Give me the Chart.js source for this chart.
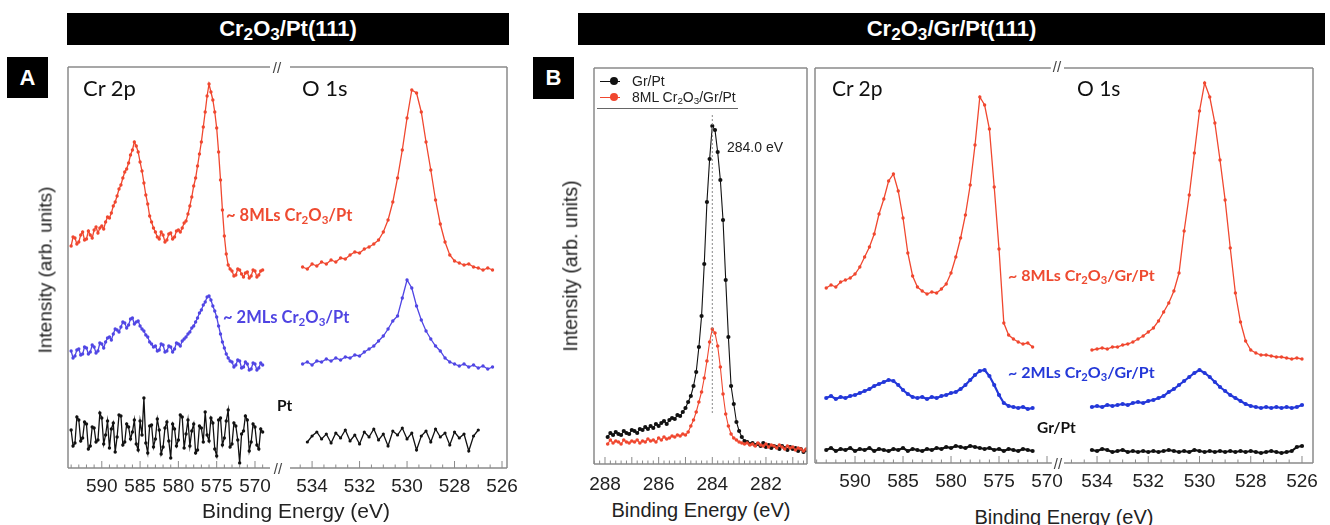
<!DOCTYPE html>
<html>
<head>
<meta charset="utf-8">
<script src="https://cdn.jsdelivr.net/npm/chart.js@4.4.1/dist/chart.umd.min.js"></script>
<style>
  body { margin: 0; width: 1330px; height: 525px; position: relative; overflow: hidden; background: #fff;
         font-family: "Liberation Sans", Arial, sans-serif; color: #222; }
  canvas { position: absolute; }
  .t { position: absolute; white-space: nowrap; line-height: 1; transform: translateY(-50%); }
  .t.c { transform: translate(-50%, -50%); }
  .yt { position: absolute; white-space: nowrap; line-height: 1; transform: translate(-50%, -50%) rotate(-90deg); }
  .bar { position: absolute; background: #000; color: #fff; font-weight: bold; text-align: center; }
  .bar sub { font-size: 78%; }
  .tag { position: absolute; background: #000; color: #fff; font-weight: bold; font-size: 22px; text-align: center; }
  .cal { font-family: Lato, "Open Sans", sans-serif; color: #111; }
  .lab { font-family: Lato, sans-serif; font-weight: bold; }
  .brk { position: absolute; font-size: 15px; color: #444; line-height: 1; transform: translate(-50%, -50%); background: #fff; padding: 0 2px; }
  sub { font-size: 70%; line-height: 0; vertical-align: -0.25em; }
  .leg { position: absolute; height: 0; }
</style>
</head>
<body>

<div class="bar" style="left:67px;top:13px;width:442px;height:32px;line-height:32px;font-size:22px">Cr<sub>2</sub>O<sub>3</sub>/Pt(111)</div>
<div class="bar" style="left:578px;top:13px;width:747px;height:32px;line-height:32px;font-size:22px">Cr<sub>2</sub>O<sub>3</sub>/Gr/Pt(111)</div>
<div class="tag" style="left:7px;top:57px;width:41px;height:41px;line-height:41px">A</div>
<div class="tag" style="left:533px;top:57px;width:41px;height:42px;line-height:42px">B</div>

<canvas id="aCr"></canvas>
<canvas id="aO"></canvas>
<canvas id="bC"></canvas>
<canvas id="bCr"></canvas>
<canvas id="bO"></canvas>

<!-- panel A text -->
<div class="t cal" style="left:83px;top:88px;font-size:22px">Cr 2p</div>
<div class="t cal" style="left:302px;top:88px;font-size:22px">O 1s</div>
<div class="t lab" style="left:226px;top:215px;font-size:16.5px;color:#EE4A30">~ 8MLs Cr<sub>2</sub>O<sub>3</sub>/Pt</div>
<div class="t lab" style="left:223px;top:317px;font-size:16.5px;color:#4F44E2">~ 2MLs Cr<sub>2</sub>O<sub>3</sub>/Pt</div>
<div class="t lab" style="left:277px;top:406px;font-size:15.5px;color:#111">Pt</div>
<div class="yt" style="left:45px;top:270px;font-size:19px">Intensity (arb. units)</div>
<div class="t c" style="left:296px;top:510px;font-size:21px">Binding Energy (eV)</div>
<div class="brk" style="left:277px;top:67px">//</div>
<div class="brk" style="left:278px;top:468px">//</div>

<!-- panel B text -->
<div class="leg" style="left:600px;top:81px;width:20px;border-top:1.5px solid #111"></div>
<div class="leg" style="left:610px;top:77px;width:8px;height:8px;border-radius:50%;background:#111"></div>
<div class="t" style="left:632px;top:81px;font-size:14px">Gr/Pt</div>
<div class="leg" style="left:600px;top:97px;width:20px;border-top:1.5px solid #F0472F"></div>
<div class="leg" style="left:610px;top:93px;width:8px;height:8px;border-radius:50%;background:#F0472F"></div>
<div class="t" style="left:632px;top:97px;font-size:14px">8ML Cr<sub>2</sub>O<sub>3</sub>/Gr/Pt</div>
<div class="leg" style="left:597px;top:108px;width:141px;border-top:1.5px solid #666"></div>
<div class="t" style="left:727px;top:147px;font-size:14px">284.0 eV</div>

<div class="t cal" style="left:832px;top:87px;font-size:21px">Cr 2p</div>
<div class="t cal" style="left:1077px;top:87px;font-size:21px">O 1s</div>
<div class="t lab" style="left:1008px;top:275px;font-size:16px;color:#EE4A30">~ 8MLs Cr<sub>2</sub>O<sub>3</sub>/Gr/Pt</div>
<div class="t lab" style="left:1008px;top:372px;font-size:16px;color:#2438D8">~ 2MLs Cr<sub>2</sub>O<sub>3</sub>/Gr/Pt</div>
<div class="t lab" style="left:1037px;top:428px;font-size:15.5px;color:#111">Gr/Pt</div>
<div class="yt" style="left:571px;top:266px;font-size:19.5px">Intensity (arb. units)</div>
<div class="t c" style="left:701px;top:510px;font-size:20px">Binding Energy (eV)</div>
<div class="t c" style="left:1064px;top:517px;font-size:20px">Binding Energy (eV)</div>
<div class="brk" style="left:1057px;top:66px">//</div>
<div class="brk" style="left:1058px;top:463px">//</div>

<script>
// ---------- panel A: Cr2O3/Pt(111) ----------
const crEvA = [594, 593.75, 593.5, 593.25, 593, 592.75, 592.5, 592.25, 592, 591.75,
  591.5, 591.25, 591, 590.75, 590.5, 590.25, 590, 589.75, 589.5, 589.25,
  589, 588.75, 588.5, 588.25, 588, 587.75, 587.5, 587.25, 587, 586.75,
  586.5, 586.25, 586, 585.75, 585.5, 585.25, 585, 584.75, 584.5, 584.25,
  584, 583.75, 583.5, 583.25, 583, 582.75, 582.5, 582.25, 582, 581.75,
  581.5, 581.25, 581, 580.75, 580.5, 580.25, 580, 579.75, 579.5, 579.25,
  579, 578.75, 578.5, 578.25, 578, 577.75, 577.5, 577.25, 577, 576.75,
  576.5, 576.25, 576, 575.75, 575.5, 575.25, 575, 574.75, 574.5, 574.25,
  574, 573.75, 573.5, 573.25, 573, 572.75, 572.5, 572.25, 572, 571.75,
  571.5, 571.25, 571, 570.75, 570.5, 570.25, 570, 569.75, 569.5, 569.25,
  569];
const crA8 = [222, 231, 230, 224, 226, 233, 236, 228, 229, 237,
  233, 230, 238, 241, 235, 240, 242, 239, 246, 251,
  250, 255, 262, 266, 272, 279, 283, 290, 296, 299,
  305, 313, 318, 326, 322, 316, 306, 297, 285, 273,
  264, 252, 246, 240, 236, 231, 229, 236, 233, 226,
  228, 234, 235, 229, 231, 237, 238, 236, 240, 245,
  247, 254, 262, 271, 282, 290, 302, 314, 326, 341,
  356, 372, 384, 376, 368, 356, 340, 316, 288, 258,
  232, 214, 203, 199, 197, 192, 193, 199, 198, 194,
  191, 195, 196, 190, 192, 198, 197, 191, 193, 197,
  198];
const crA2 = [117, 110, 112, 118, 119, 113, 114, 121, 120, 114,
  116, 123, 121, 115, 117, 125, 124, 120, 126, 130,
  131, 128, 134, 139, 138, 136, 141, 146, 145, 140,
  143, 149, 150, 144, 146, 147, 142, 139, 137, 133,
  131, 126, 124, 121, 122, 117, 118, 124, 123, 116,
  117, 122, 121, 116, 119, 125, 124, 122, 127, 129,
  131, 134, 136, 140, 142, 146, 150, 155, 158, 163,
  166, 171, 172, 168, 162, 157, 151, 142, 134, 126,
  120, 114, 110, 107, 106, 101, 103, 108, 107, 100,
  101, 106, 104, 98, 99, 105, 104, 98, 100, 105,
  103];
const crAPt = [38, 22, 25, 51, 48, 27, 30, 46, 44, 19,
  22, 41, 40, 26, 28, 55, 50, 24, 33, 47,
  20, 39, 45, 16, 31, 53, 52, 23, 26, 44,
  41, 29, 36, 48, 24, 18, 47, 33, 70, 25,
  15, 42, 43, 21, 29, 49, 38, 14, 21, 40,
  46, 27, 10, 44, 39, 22, 28, 53, 51, 20,
  34, 48, 22, 37, 44, 15, 18, 42, 40, 26,
  56, 33, 27, 50, 45, 19, 12, 48, 50, 23,
  30, 47, 58, 21, 24, 45, 42, 28, 5, 34,
  37, 52, 48, 17, 26, 44, 41, 23, 19, 39,
  36];

const oEvA = [534.4, 534.2, 534, 533.8, 533.6, 533.4, 533.2, 533, 532.8, 532.6, 532.4, 532.2, 532, 531.8, 531.6, 531.4,
  531.2, 531, 530.8, 530.6, 530.4, 530.2, 530, 529.8, 529.6, 529.4, 529.2, 529, 528.8, 528.6, 528.4, 528.2,
  528, 527.8, 527.6, 527.4, 527.2, 527, 526.8, 526.6, 526.4];
const oA8 = [201, 199, 204, 202, 206, 204, 208, 206, 210, 209, 213, 216, 215, 219, 221, 224,
  228, 236, 248, 266, 290, 318, 350, 378, 375, 356, 326, 298, 268, 244, 226, 213,
  207, 205, 203, 204, 201, 200, 198, 200, 198];
const oA2 = [104, 106, 103, 107, 106, 109, 107, 110, 108, 111, 110, 113, 112, 116, 119, 122,
  127, 132, 139, 147, 152, 170, 188, 180, 162, 148, 137, 129, 122, 117, 110, 106,
  104, 102, 104, 101, 103, 100, 102, 99, 101];
const oEvAPt = [534.2, 534, 533.8, 533.6, 533.4, 533.2, 533, 532.8, 532.6, 532.4, 532.2, 532, 531.8, 531.6, 531.4, 531.2,
  531, 530.8, 530.6, 530.4, 530.2, 530, 529.8, 529.6, 529.4, 529.2, 529, 528.8, 528.6, 528.4, 528.2, 528,
  527.8, 527.6, 527.4, 527.2, 527];
const oAPt = [26, 32, 36, 29, 34, 25, 35, 30, 38, 27, 33, 24, 36, 31, 39, 28,
  34, 22, 37, 33, 40, 29, 35, 18, 32, 37, 26, 39, 31, 35, 23, 36,
  30, 34, 17, 32, 38];

// ---------- panel B: C 1s ----------
const cEv = [287.9, 287.8, 287.7, 287.6, 287.5, 287.4, 287.3, 287.2, 287.1, 287.0,
  286.9, 286.8, 286.7, 286.6, 286.5, 286.4, 286.3, 286.2, 286.1, 286.0,
  285.9, 285.8, 285.7, 285.6, 285.5, 285.4, 285.3, 285.2, 285.1, 285.0,
  284.9, 284.8, 284.7, 284.6, 284.5, 284.4, 284.3, 284.2, 284.1, 284.0,
  283.9, 283.8, 283.7, 283.6, 283.5, 283.4, 283.3, 283.2, 283.1, 283.0,
  282.9, 282.8, 282.7, 282.6, 282.5, 282.4, 282.3, 282.2, 282.1, 282.0,
  281.9, 281.8, 281.7, 281.6, 281.5, 281.4, 281.3, 281.2, 281.1, 281.0,
  280.9, 280.8, 280.7, 280.6, 280.5];
const cGr = [27, 31, 29, 32, 30, 29, 33, 31, 30, 34,
  33, 31, 35, 34, 37, 35, 38, 36, 40, 38,
  41, 43, 40, 44, 46, 45, 49, 48, 52, 56,
  62, 68, 78, 92, 117, 148, 200, 262, 305, 338,
  334, 312, 284, 244, 184, 127, 78, 60, 42, 33,
  27, 23, 22, 20, 21, 19, 20, 18, 21, 17,
  19, 16, 18, 17, 15, 18, 16, 14, 17, 15,
  16, 13, 15, 12, 14];
const cCr8 = [20, 24, 21, 23, 22, 20, 24, 22, 21, 23,
  22, 24, 21, 23, 22, 25, 23, 24, 22, 26,
  24, 27, 25, 26, 28, 27, 29, 28, 30, 29,
  32, 38, 44, 52, 62, 72, 86, 103, 122, 135,
  131, 118, 97, 70, 50, 38, 30, 26, 24, 22,
  21, 20, 21, 19, 20, 18, 21, 19, 18, 20,
  17, 19, 18, 16, 19, 17, 15, 18, 16, 17,
  14, 16, 15, 13, 15];
const cRefEv = [284.0, 284.0];
const cRefY = [51, 351];

// ---------- panel B: Cr 2p / O 1s on Gr/Pt ----------
const crEvB = [593, 592.5, 592, 591.5, 591, 590.5, 590, 589.5, 589, 588.5, 588, 587.5, 587, 586.5, 586, 585.5, 585, 584.5,
  584, 583.5, 583, 582.5, 582, 581.5, 581, 580.5, 580, 579.5, 579, 578.5, 578, 577.5, 577, 576.5, 576, 575.5,
  575, 574.5, 574, 573.5, 573, 572.5, 572, 571.5];
const crB8 = [175, 178, 176, 181, 183, 185, 189, 196, 206, 216, 229, 249, 264, 282, 289, 272, 245, 210,
  187, 176, 172, 169, 171, 170, 174, 179, 190, 206, 225, 248, 278, 318, 366, 358, 334, 276,
  214, 140, 128, 124, 121, 119, 120, 116];
const crB2 = [65, 67, 64, 66, 65, 67, 68, 70, 72, 74, 77, 79, 81, 83, 82, 78, 73, 69,
  66, 65, 66, 64, 66, 65, 67, 68, 70, 71, 74, 78, 83, 88, 92, 93, 87, 78,
  68, 60, 57, 56, 55, 56, 54, 55];
const crBGr = [13, 15, 12, 14, 13, 15, 12, 14, 13, 15, 12, 14, 13, 12, 14, 13, 15, 12,
  14, 13, 12, 14, 13, 15, 14, 16, 15, 17, 16, 15, 17, 16, 15, 14, 15, 13,
  14, 12, 14, 13, 12, 14, 13, 12];

const oEvB = [534.2, 534, 533.8, 533.6, 533.4, 533.2, 533, 532.8, 532.6, 532.4, 532.2, 532, 531.8, 531.6,
  531.4, 531.2, 531, 530.8, 530.6, 530.4, 530.2, 530, 529.8, 529.6, 529.4, 529.2, 529, 528.8,
  528.6, 528.4, 528.2, 528, 527.8, 527.6, 527.4, 527.2, 527, 526.8, 526.6, 526.4, 526.2, 526];
const oB8 = [113, 114, 115, 114, 116, 116, 118, 119, 121, 124, 127, 131, 135, 142,
  151, 160, 172, 190, 232, 268, 310, 352, 380, 366, 340, 303, 263, 215,
  170, 141, 122, 113, 110, 108, 108, 107, 106, 106, 105, 104, 105, 104];
const oB2 = [56, 57, 56, 58, 57, 58, 59, 58, 60, 61, 60, 62, 63, 65,
  67, 71, 74, 78, 82, 86, 90, 93, 90, 86, 81, 76, 72, 68,
  65, 62, 59, 57, 56, 55, 56, 55, 56, 55, 56, 55, 56, 58];
const oBGr = [13, 12, 14, 13, 11, 12, 13, 11, 12, 11, 12, 11, 12, 11,
  12, 13, 12, 11, 12, 11, 13, 12, 11, 12, 11, 12, 11, 12,
  11, 12, 11, 12, 11, 10, 11, 12, 11, 10, 11, 12, 16, 17];

const crTicks = [590, 585, 580, 575, 570];
const oTicks = [534, 532, 530, 528, 526];
const cTicks = [288, 286, 284, 282];

const RED = '#F0472F', BLUE_A = '#5046E4', BLUE_B = '#2337D9', BLACK = '#111111';

// frame lines and inward minor/major ticks on the bottom axis
const framePlugin = {
  id: 'frame',
  afterDraw(chart, args, opts) {
    const { ctx, chartArea: a } = chart;
    const x = chart.scales.x;
    ctx.save();
    ctx.strokeStyle = '#8a8a8a';
    ctx.lineWidth = 1.5;
    ctx.beginPath();
    if (opts.sides.includes('l')) { ctx.moveTo(a.left, a.top); ctx.lineTo(a.left, a.bottom); }
    if (opts.sides.includes('r')) { ctx.moveTo(a.right, a.top); ctx.lineTo(a.right, a.bottom); }
    if (opts.sides.includes('t')) { ctx.moveTo(a.left, a.top); ctx.lineTo(a.right, a.top); }
    ctx.moveTo(a.left, a.bottom); ctx.lineTo(a.right, a.bottom);
    ctx.stroke();
    ctx.lineWidth = 1;
    ctx.beginPath();
    const k0 = Math.ceil(x.min / opts.minor - 1e-6), k1 = Math.floor(x.max / opts.minor + 1e-6);
    const every = Math.round(opts.major / opts.minor);
    for (let k = k0; k <= k1; k++) {
      const px = x.getPixelForValue(k * opts.minor);
      const len = (k % every === 0) ? 7 : 3.5;
      ctx.moveTo(px, a.bottom); ctx.lineTo(px, a.bottom - len);
    }
    ctx.stroke();
    ctx.restore();
  }
};

function trace(xs, ys, color, r, w, dash) {
  return {
    data: xs.map((x, i) => ({ x, y: ys[i] })),
    showLine: true,
    borderColor: color,
    backgroundColor: color,
    borderWidth: w,
    borderDash: dash || [],
    pointRadius: r,
    pointBorderWidth: 0
  };
}

function spectrum(id, box, xMin, xMax, tickVals, minor, major, sides, labelPad, sets) {
  const PX = 26, PT = 4, PB = 34;
  const cv = document.getElementById(id);
  cv.width = box.r - box.l + 2 * PX;
  cv.height = box.b - box.t + PT + PB;
  cv.style.left = (box.l - PX) + 'px';
  cv.style.top = (box.t - PT) + 'px';
  return new Chart(cv, {
    type: 'scatter',
    data: { datasets: sets },
    options: {
      responsive: false,
      animation: false,
      layout: { padding: { left: PX, right: PX, top: PT, bottom: 0 } },
      plugins: {
        legend: { display: false },
        tooltip: { enabled: false },
        frame: { sides, minor, major }
      },
      scales: {
        x: {
          type: 'linear', reverse: true, min: xMin, max: xMax,
          grid: { display: false, drawTicks: false },
          border: { display: false },
          afterBuildTicks: s => { s.ticks = tickVals.map(v => ({ value: v })); },
          afterFit: s => { s.height = PB; s.paddingLeft = 0; s.paddingRight = 0; },
          ticks: {
            autoSkip: false, maxRotation: 0, padding: labelPad, color: '#222',
            font: { family: 'Liberation Sans', size: 19 }
          }
        },
        y: { display: false, min: 0, max: box.b - box.t }
      }
    },
    plugins: [framePlugin]
  });
}

spectrum('aCr', { l: 68, r: 270, t: 67, b: 468 }, 568.04, 594.41, crTicks, 1, 5, 'lt', 7, [
  trace(crEvA, crA8, RED, 1.7, 1.3),
  trace(crEvA, crA2, BLUE_A, 1.7, 1.3),
  trace(crEvA, crAPt, BLACK, 1.7, 1.3)
]);
spectrum('aO', { l: 290, r: 507, t: 67, b: 468 }, 525.79, 534.93, oTicks, 0.5, 2, 'rt', 7, [
  trace(oEvA, oA8, RED, 1.7, 1.3),
  trace(oEvA, oA2, BLUE_A, 1.7, 1.3),
  trace(oEvAPt, oAPt, BLACK, 1.6, 1.3)
]);
spectrum('bC', { l: 594, r: 807, t: 68, b: 464 }, 280.47, 288.41, cTicks, 0.2, 1, 'lrt', 9, [
  trace(cRefEv, cRefY, '#8a8a8a', 0, 1, [2, 2]),
  trace(cEv, cCr8, RED, 1.8, 1.1),
  trace(cEv, cGr, BLACK, 2.1, 1.1)
]);
spectrum('bCr', { l: 815, r: 1052, t: 68, b: 463 }, 569.48, 594.17, crTicks, 1, 5, 'lt', 7, [
  trace(crEvB, crB8, RED, 1.7, 1.3),
  trace(crEvB, crB2, BLUE_B, 2.1, 2.2),
  trace(crEvB, crBGr, BLACK, 2.1, 2.2)
]);
spectrum('bO', { l: 1064, r: 1313, t: 68, b: 463 }, 525.57, 535.29, oTicks, 0.5, 2, 'rt', 7, [
  trace(oEvB, oB8, RED, 1.7, 1.3),
  trace(oEvB, oB2, BLUE_B, 2.1, 2.2),
  trace(oEvB, oBGr, BLACK, 2.1, 2.2)
]);
</script>
</body>
</html>
